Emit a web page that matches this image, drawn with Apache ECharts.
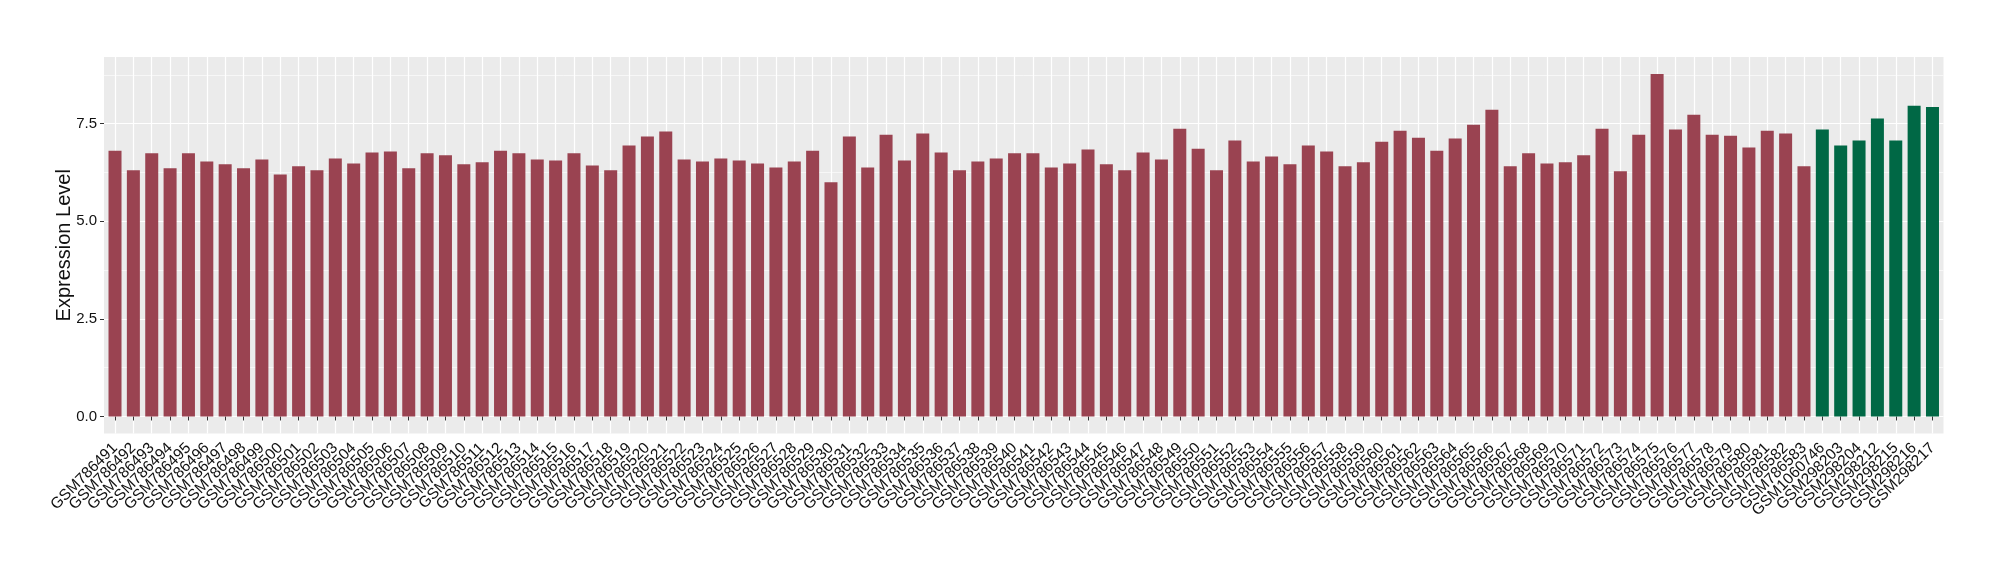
<!DOCTYPE html>
<html>
<head>
<meta charset="utf-8">
<script src="https://cdn.jsdelivr.net/npm/echarts@6/dist/echarts.min.js"></script>
<style>
  html, body { margin: 0; padding: 0; background: #fff; }
  #chart { width: 2000px; height: 580px; }
</style>
</head>
<body>
<div id="chart"></div>
<script>
// red group
const tumorSamples = [
  'GSM786491', 'GSM786492', 'GSM786493', 'GSM786494', 'GSM786495', 'GSM786496', 'GSM786497', 'GSM786498', 'GSM786499', 'GSM786500',
  'GSM786501', 'GSM786502', 'GSM786503', 'GSM786504', 'GSM786505', 'GSM786506', 'GSM786507', 'GSM786508', 'GSM786509', 'GSM786510',
  'GSM786511', 'GSM786512', 'GSM786513', 'GSM786514', 'GSM786515', 'GSM786516', 'GSM786517', 'GSM786518', 'GSM786519', 'GSM786520',
  'GSM786521', 'GSM786522', 'GSM786523', 'GSM786524', 'GSM786525', 'GSM786526', 'GSM786527', 'GSM786528', 'GSM786529', 'GSM786530',
  'GSM786531', 'GSM786532', 'GSM786533', 'GSM786534', 'GSM786535', 'GSM786536', 'GSM786537', 'GSM786538', 'GSM786539', 'GSM786540',
  'GSM786541', 'GSM786542', 'GSM786543', 'GSM786544', 'GSM786545', 'GSM786546', 'GSM786547', 'GSM786548', 'GSM786549', 'GSM786550',
  'GSM786551', 'GSM786552', 'GSM786553', 'GSM786554', 'GSM786555', 'GSM786556', 'GSM786557', 'GSM786558', 'GSM786559', 'GSM786560',
  'GSM786561', 'GSM786562', 'GSM786563', 'GSM786564', 'GSM786565', 'GSM786566', 'GSM786567', 'GSM786568', 'GSM786569', 'GSM786570',
  'GSM786571', 'GSM786572', 'GSM786573', 'GSM786574', 'GSM786575', 'GSM786576', 'GSM786577', 'GSM786578', 'GSM786579', 'GSM786580',
  'GSM786581', 'GSM786582', 'GSM786583'
]
const tumorValues = [
  6.81, 6.31, 6.74, 6.36, 6.74, 6.53, 6.46, 6.36, 6.58, 6.20,
  6.41, 6.31, 6.61, 6.48, 6.76, 6.79, 6.36, 6.74, 6.69, 6.46,
  6.51, 6.81, 6.74, 6.58, 6.56, 6.74, 6.43, 6.31, 6.94, 7.17,
  7.30, 6.58, 6.53, 6.61, 6.56, 6.48, 6.38, 6.53, 6.81, 6.00,
  7.17, 6.38, 7.22, 6.56, 7.25, 6.76, 6.31, 6.53, 6.61, 6.74,
  6.74, 6.38, 6.48, 6.84, 6.46, 6.31, 6.76, 6.58, 7.37, 6.86,
  6.31, 7.07, 6.53, 6.66, 6.46, 6.94, 6.79, 6.41, 6.51, 7.04,
  7.32, 7.14, 6.81, 7.12, 7.47, 7.86, 6.41, 6.74, 6.48, 6.51,
  6.69, 7.37, 6.28, 7.22, 8.77, 7.35, 7.73, 7.22, 7.19, 6.89,
  7.32, 7.25, 6.41
]
// green group
const normalSamples = ['GSM1060746', 'GSM298203', 'GSM298204', 'GSM298212', 'GSM298215', 'GSM298216', 'GSM298217']
const normalValues = [7.35, 6.94, 7.07, 7.63, 7.07, 7.96, 7.93]

const yTicks = [0, 2.5, 5, 7.5]
const tumorColor = '#9A4351'
const normalColor = '#006845'

const samples = tumorSamples.concat(normalSamples)
const dataMax = Math.max(...tumorValues, ...normalValues)
const yMax = dataMax * 1.05
const yMin = -dataMax * 0.05

// panel box (px)
const panelLeft = 104
const panelRight = 1943.5
const panelTop = 57
const panelBottom = 433.6
const step = (panelRight - panelLeft) / (samples.length - 1 + 1.2)
const pxPerUnit = (panelBottom - panelTop) / (yMax - yMin)
const zeroY = panelBottom + yMin * pxPerUnit
const textColor = '#111'
const font = 'Liberation Sans, Arial, sans-serif'

const barData = tumorValues.map(v => ({ value: v, itemStyle: { color: tumorColor } }))
  .concat(normalValues.map(v => ({ value: v, itemStyle: { color: normalColor } })))

const chart = echarts.init(document.getElementById('chart'))
chart.setOption({
  animation: false,
  textStyle: { fontFamily: font },
  grid: [
    // panel background
    {
      left: panelLeft, top: panelTop,
      width: panelRight - panelLeft, height: panelBottom - panelTop,
      show: true, backgroundColor: '#EBEBEB', borderWidth: 0, z: 0,
      outerBoundsMode: 'none'
    },
    // horizontal grid lines + y labels
    {
      left: panelLeft, top: zeroY - 10 * pxPerUnit,
      width: panelRight - panelLeft, height: 10 * pxPerUnit,
      show: false, outerBoundsMode: 'none'
    },
    // bars
    {
      left: panelLeft + 0.6 * step, top: panelTop,
      width: (samples.length - 1) * step, height: panelBottom - panelTop,
      show: false, outerBoundsMode: 'none'
    }
  ],
  xAxis: [
    { type: 'value', gridIndex: 0, show: false },
    { type: 'value', gridIndex: 1, show: false },
    {
      type: 'category',
      gridIndex: 2,
      data: samples,
      boundaryGap: false,
      z: 1,
      axisLine: { show: false },
      axisTick: { show: true, interval: 0, length: 4, lineStyle: { color: '#333', width: 1 } },
      axisLabel: { interval: 0, rotate: 45, fontSize: 15.5, color: textColor, margin: 12, fontFamily: font },
      splitLine: { show: true, interval: 0, lineStyle: { color: '#fff', width: 1.2 } }
    }
  ],
  yAxis: [
    { type: 'value', gridIndex: 0, show: false },
    {
      type: 'value',
      gridIndex: 1,
      min: 0,
      max: 10,
      interval: 2.5,
      z: 1,
      axisLine: { show: false },
      axisTick: { show: true, length: 4, customValues: yTicks, lineStyle: { color: '#333', width: 1 } },
      axisLabel: {
        customValues: yTicks,
        fontSize: 15, color: textColor, margin: 7, fontFamily: font,
        formatter: v => Number(v).toFixed(1)
      },
      minorTick: { show: false, splitNumber: 2 },
      splitLine: { show: true, lineStyle: { color: '#fff', width: 1.2 } },
      minorSplitLine: { show: true, lineStyle: { color: '#fff', width: 0.6 } }
    },
    {
      type: 'value',
      gridIndex: 2,
      min: yMin,
      max: yMax,
      axisLine: { show: false },
      axisTick: { show: false },
      axisLabel: { show: false },
      splitLine: { show: false },
      name: 'Expression Level',
      nameLocation: 'middle',
      nameGap: 0.6 * step + 30,
      nameTextStyle: { fontSize: 20, color: textColor, fontFamily: font }
    }
  ],
  series: [
    {
      type: 'bar',
      xAxisIndex: 2,
      yAxisIndex: 2,
      barWidth: 13,
      silent: true,
      data: barData
    }
  ]
})
</script>
</body>
</html>
